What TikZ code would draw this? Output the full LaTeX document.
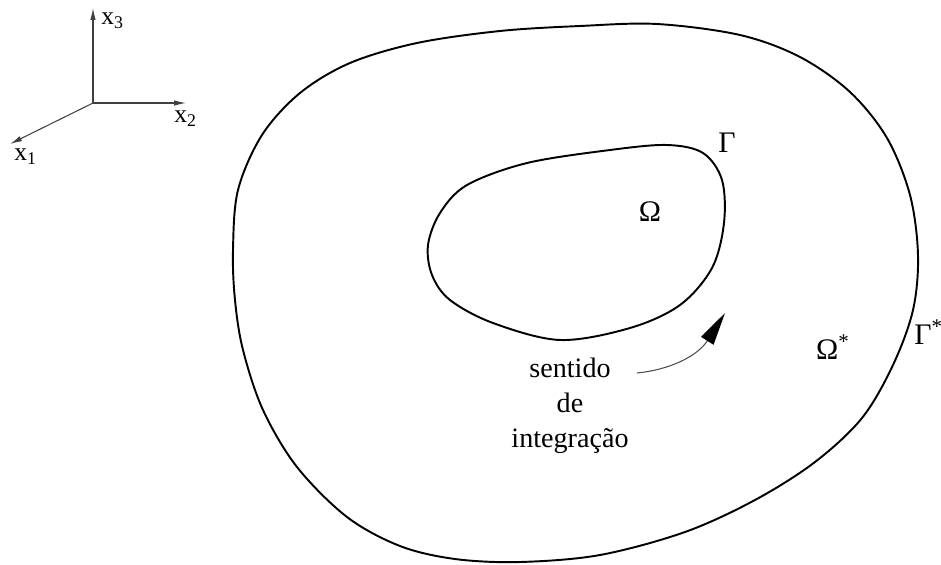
\documentclass[tikz,border=0pt]{standalone}
\usepackage{fontspec}
\setmainfont{Liberation Serif}
\usetikzlibrary{arrows.meta}

\begin{document}
\begin{tikzpicture}[x=0.02cm,y=-0.02cm,
  bnd/.style={line width=1.1pt,black},
  axis/.style={-{Latex[length=2.4mm,width=1.1mm]},line width=0.6pt,black!75},
  lbl/.style={inner sep=0pt,font=\fontsize{17}{20}\selectfont},
  albl/.style={inner sep=0pt,font=\fontsize{14.5}{17}\selectfont,anchor=west},
  arr/.style={-{Triangle[length=6.6mm,width=2.9mm,color=black]},line width=0.6pt,black!70}
]
\useasboundingbox (0,0) rectangle (941,565);

% Axes
\coordinate (o) at (93,103);
\coordinate (e1) at (10,144);
\coordinate (e2) at (186,103);
\coordinate (e3) at (93,8);
\draw[axis] (o) -- (e1);
\draw[axis] (o) -- (e2);
\draw[axis] (o) -- (e3);
\node[albl] (x1) at (14,157) {x\textsubscript{1}};
\node[albl] (x2) at (174,119) {x\textsubscript{2}};
\node[albl] (x3) at (101,21) {x\textsubscript{3}};

% Outer boundary
\draw[bnd] plot[smooth cycle,tension=0.55] coordinates {
  (233,250) (238,190) (262,135) (300,93) (350,63) (417,43) (500,31)
  (580,26) (657,24) (740,35) (800,57) (850,92) (887,138) (910,195)
  (918,255) (913,310) (893,365) (862,418) (815,462) (755,500) (685,532)
  (600,555) (520,562) (455,559) (400,546) (347,517) (297,467) (263,410)
  (243,350) (235,300)};

% Inner boundary
\draw[bnd] plot[smooth cycle,tension=0.55] coordinates {
  (428,245) (440,213) (467,185) (527,163) (610,150) (667,145) (703,153)
  (722,180) (724,223) (712,268) (680,305) (630,328) (560,340) (493,323)
  (450,300) (432,275)};

% Labels
\node[lbl] (om) at (650,212) {Ω};
\node[lbl] (ga) at (727,143) {Γ};
\node[lbl] (oms) at (833,347) {Ω\textsuperscript{*}};
\node[lbl,anchor=west] (gas) at (914,332) {Γ\textsuperscript{*}};

% Direction of integration
\node[lbl,align=center,font=\fontsize{16}{20}\selectfont] (sent) at (570,406)
  {sentido\\de\\integração};
\coordinate (arrS) at (637,373);
\coordinate (arrE) at (725,313);
\draw[arr] (arrS) .. controls (668,370) and (697,357) .. (arrE);

\end{tikzpicture}
\end{document}
